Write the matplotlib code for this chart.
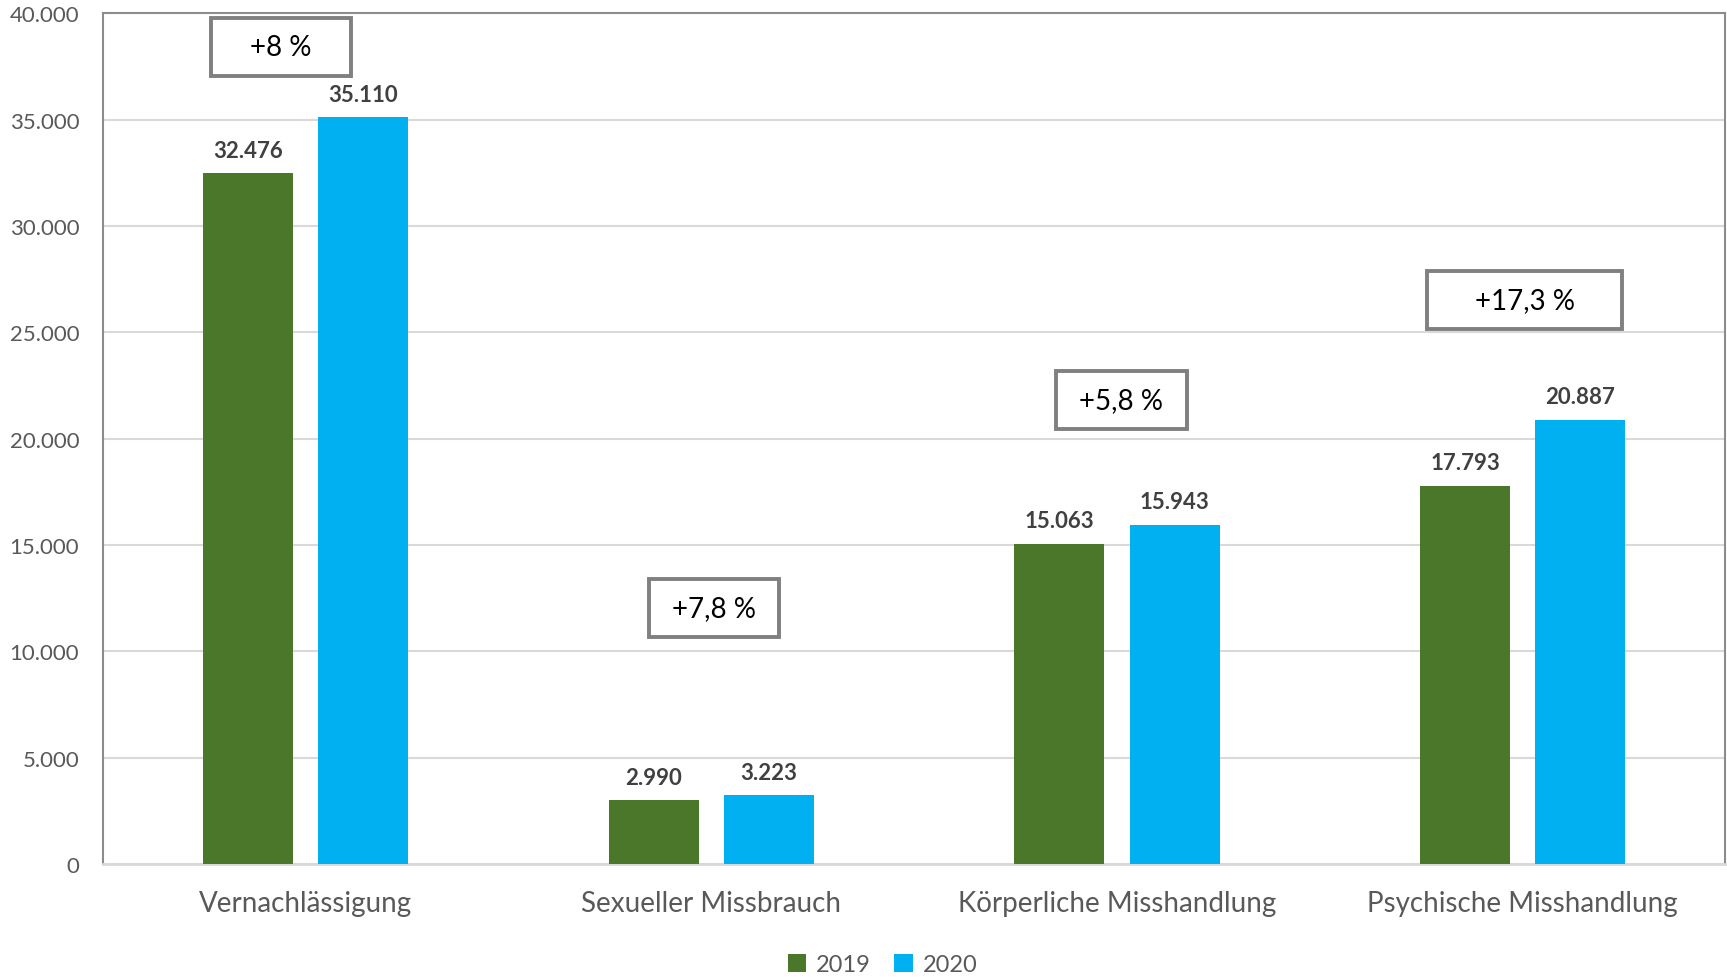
import numpy as np
import matplotlib.pyplot as plt
from matplotlib.patches import Rectangle
from matplotlib.ticker import FuncFormatter

plt.rcParams['font.family'] = ['Lato', 'DejaVu Sans']

# Daten
kategorien = ['Vernachlässigung', 'Sexueller Missbrauch', 'Körperliche Misshandlung', 'Psychische Misshandlung']
werte_2019 = [32476, 2990, 15063, 17793]
werte_2020 = [35110, 3223, 15943, 20887]
veraenderung = ['+8 %', '+7,8 %', '+5,8 %', '+17,3 %']

# Lage und Größe der Veränderungs-Kästen (Mitte x/y, Breite, Höhe in Datenwerten)
kasten_x = [-0.061, 1.006, 2.011, 3.005]
kasten_y = [38400, 12030, 21810, 26510]
kasten_b = [0.343, 0.320, 0.325, 0.481]
kasten_h = 2750

gruen = '#4a7729'
blau = '#00b0f0'
grau_text = '#595959'

def fmt(v):
    return f'{int(v):,}'.replace(',', '.')

fig = plt.figure(figsize=(17.27, 9.78), dpi=100)
ax = fig.add_axes([0.0596, 0.1155, 0.9395, 0.870])

x = np.arange(len(kategorien))
breite = 0.222
versatz = 0.142

b1 = ax.bar(x - versatz, werte_2019, breite, color=gruen, label='2019', zorder=3)
b2 = ax.bar(x + versatz, werte_2020, breite, color=blau, label='2020', zorder=3)

for bars, werte in [(b1, werte_2019), (b2, werte_2020)]:
    for rect, v in zip(bars, werte):
        ax.annotate(fmt(v), (rect.get_x() + rect.get_width() / 2, v),
                    xytext=(0, 9), textcoords='offset points',
                    ha='center', va='bottom', fontsize=16, fontweight='bold',
                    color='#404040')

for i, txt in enumerate(veraenderung):
    ax.add_patch(Rectangle((kasten_x[i] - kasten_b[i] / 2, kasten_y[i] - kasten_h / 2),
                           kasten_b[i], kasten_h, facecolor='white',
                           edgecolor='#808080', linewidth=2.8, zorder=5,
                           clip_on=False))
    ax.text(kasten_x[i], kasten_y[i], txt, ha='center', va='center',
            fontsize=20, color='black', zorder=6)

ax.set_xlim(-0.5, 3.5)
ax.set_ylim(0, 40000)
ax.set_yticks(np.arange(0, 40001, 5000))
ax.yaxis.set_major_formatter(FuncFormatter(lambda v, p: fmt(v)))
ax.grid(axis='y', color='#d9d9d9', linewidth=1.5, zorder=0)
ax.set_axisbelow(True)

ax.set_xticks(x)
ax.set_xticklabels(kategorien, fontsize=20, color=grau_text)
ax.tick_params(axis='x', length=0, pad=19)
ax.tick_params(axis='y', length=0, pad=17, labelsize=16, labelcolor=grau_text)

for s in ['left', 'top', 'right']:
    ax.spines[s].set_color('#8c8c8c')
    ax.spines[s].set_linewidth(1.5)
ax.spines['bottom'].set_color('#d9d9d9')
ax.spines['bottom'].set_linewidth(2)

leg = fig.legend(handles=[b1, b2], labels=['2019', '2020'], loc='center',
                 bbox_to_anchor=(0.511, 0.013), ncol=2, frameon=False,
                 fontsize=17, handlelength=0.8, handleheight=0.8,
                 handletextpad=0.4, columnspacing=1.0)
for t in leg.get_texts():
    t.set_color(grau_text)

fig.savefig('out.png', dpi=100)
